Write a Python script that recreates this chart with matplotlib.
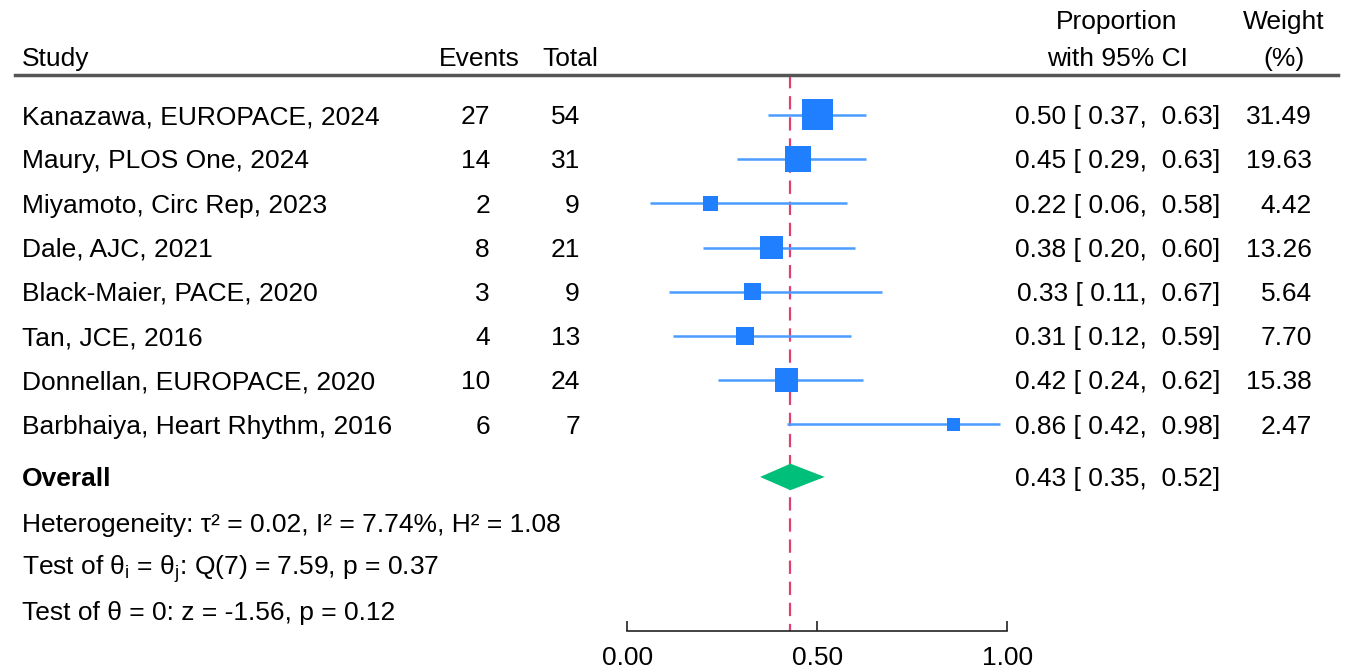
import numpy as np
import matplotlib
matplotlib.use("Agg")
import matplotlib.pyplot as plt

plt.rcParams['font.family'] = ['Liberation Sans', 'DejaVu Sans']
plt.rcParams['mathtext.fontset'] = 'custom'
plt.rcParams['mathtext.rm'] = 'Liberation Sans'
plt.rcParams['mathtext.it'] = 'Liberation Sans:italic'

# data
studies = ["Kanazawa, EUROPACE, 2024", "Maury, PLOS One, 2024", "Miyamoto, Circ Rep, 2023",
           "Dale, AJC, 2021", "Black-Maier, PACE, 2020", "Tan, JCE, 2016",
           "Donnellan, EUROPACE, 2020", "Barbhaiya, Heart Rhythm, 2016"]
events = [27, 14, 2, 8, 3, 4, 10, 6]
totals = [54, 31, 9, 21, 9, 13, 24, 7]
prop = [0.50, 0.45, 0.22, 0.38, 0.33, 0.31, 0.42, 0.86]
lo = [0.37, 0.29, 0.06, 0.20, 0.11, 0.12, 0.24, 0.42]
hi = [0.63, 0.63, 0.58, 0.60, 0.67, 0.59, 0.62, 0.98]
weight = [31.49, 19.63, 4.42, 13.26, 5.64, 7.70, 15.38, 2.47]
overall = (0.43, 0.35, 0.52)
stats_lines = ["Heterogeneity: τ² = 0.02, I² = 7.74%, H² = 1.08",
               "Test of θ$_\\mathregular{i}$ = θ$_\\mathregular{j}$: Q(7) = 7.59, p = 0.37",
               "Test of θ = 0: z = -1.56, p = 0.12"]

fig = plt.figure(figsize=(13.48, 6.71), dpi=100)
ax = fig.add_axes([0, 0, 1, 1])
ax.set_xlim(-1.65, 1.897)
ax.set_ylim(12.58, -2.6)

fs = 19
n = len(studies)
rows = np.arange(n)
dy = 0.05  # small text nudge

def px(x):
    # pixel column -> data x
    return -1.65 + x / 1348 * (1.897 + 1.65)

# header
ax.text(px(22), -1.31 + dy, "Study", fontsize=fs, va='center', ha='left')
ax.text(px(520), -1.31 + dy, "Events", fontsize=fs, va='center', ha='right')
ax.text(px(598), -1.31 + dy, "Total", fontsize=fs, va='center', ha='right')
ax.text(px(1117), -2.15 + dy, "Proportion", fontsize=fs, va='center', ha='center')
ax.text(px(1117), -1.31 + dy, "with 95% CI", fontsize=fs, va='center', ha='center')
ax.text(px(1284), -2.15 + dy, "Weight", fontsize=fs, va='center', ha='center')
ax.text(px(1284), -1.31 + dy, "(%)", fontsize=fs, va='center', ha='center')
ax.axhline(-0.9, xmin=15 / 1348, xmax=1338 / 1348, color='#555555', lw=2.5)

# study rows
for i in range(n):
    y = rows[i] + dy
    ax.text(px(22), y, studies[i], fontsize=fs, va='center', ha='left')
    ax.text(px(490), y, str(events[i]), fontsize=fs, va='center', ha='right')
    ax.text(px(580), y, str(totals[i]), fontsize=fs, va='center', ha='right')
    ax.text(px(1220), y, "%.2f [ %.2f,  %.2f]" % (prop[i], lo[i], hi[i]),
            fontsize=fs, va='center', ha='right')
    ax.text(px(1312), y, "%.2f" % weight[i], fontsize=fs, va='center', ha='right')

ax.hlines(rows, lo, hi, color='#4a9cff', lw=1.8, zorder=2)
side = 6 + 4.46 * np.sqrt(np.array(weight))  # px
ax.scatter(prop, rows, marker='s', s=(side * 0.72) ** 2, color='#1f7fff', lw=0, zorder=3)

# overall
yo = 8.19
ax.text(px(22), yo + dy, "Overall", fontsize=fs, va='center', ha='left', fontweight='bold')
ax.text(px(1220), yo + dy, "%.2f [ %.2f,  %.2f]" % overall, fontsize=fs, va='center', ha='right')
est, olo, ohi = overall
ax.fill([olo, est, ohi, est], [yo, yo - 0.3, yo, yo + 0.3], color='#00bf7a', lw=0, zorder=3)

for k, s in enumerate(stats_lines):
    ax.text(px(22), 9.23 + k * 0.99 + dy, s, fontsize=fs, va='center', ha='left')

ax.vlines(est, -0.9, 11.67, color='#e0406e', lw=1.6, linestyles=(0, (6, 3.5)), zorder=1)

# x axis
for sp in ['top', 'left', 'right']:
    ax.spines[sp].set_visible(False)
ax.spines['bottom'].set_position(('data', 11.67))
ax.spines['bottom'].set_bounds(0, 1)
ax.spines['bottom'].set_linewidth(1.2)
ax.spines['bottom'].set_color('#222222')
ax.set_xticks([0, 0.5, 1])
ax.set_xticklabels(["0.00", "0.50", "1.00"])
ax.tick_params(axis='x', direction='in', length=7, width=1.2, labelsize=fs, pad=11, color='#222222')
ax.set_yticks([])

fig.savefig("out.png", dpi=100)
